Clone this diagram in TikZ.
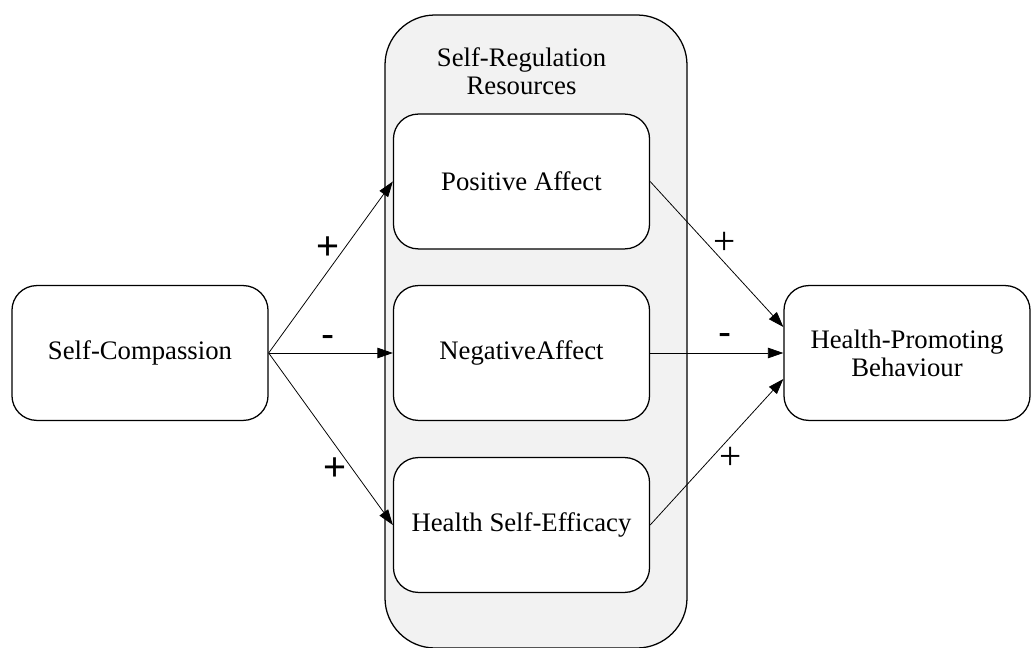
\documentclass[tikz,border=0pt]{standalone}
\usepackage{fontspec}
\setmainfont{Liberation Serif}
\newfontfamily\signfont{Liberation Sans}
\usetikzlibrary{arrows.meta}
\begin{document}
\begin{tikzpicture}[x=.025cm,y=-.025cm,
  box/.style={draw,line width=.9pt,rounded corners=.62cm,fill=white,align=center,
    minimum width=6.4cm,minimum height=3.37cm,font=\fontsize{19}{20}\selectfont},
  link/.style={line width=.55pt,-{Triangle[length=11pt,width=7.5pt]}},
  lsign/.style={font=\signfont\fontsize{28}{28}\selectfont},
  rsign/.style={font=\fontsize{28}{28}\selectfont}]
 \useasboundingbox (0,0) rectangle (1034,648);
 % resources group
 \draw[line width=.9pt,rounded corners=1.25cm,fill=black!5] (385,15) rectangle (687,648);
 \node[align=center,font=\fontsize{19}{20}\selectfont] (res) at (521.5,71) {Self-Regulation\\Resources};
 \node[box] (pos) at (521.5,181.5) {Positive Affect};
 \node[box] (neg) at (521.5,353) {NegativeAffect};
 \node[box] (eff) at (521.5,525) {Health Self-Efficacy};
 \node[box] (sc) at (140,353) {Self-Compassion};
 \node[box,minimum width=6.15cm] (hpb) at (907,353) {Health-Promoting\\Behaviour};
 % paths
 \draw[link] (sc.east) -- (pos.west);
 \draw[link] (sc.east) -- (neg.west);
 \draw[link] (sc.east) -- (eff.west);
 \draw[link] (pos.east) -- ([yshift=.65cm]hpb.west);
 \draw[link] (neg.east) -- (hpb.west);
 \draw[link] (eff.east) -- ([yshift=-.65cm]hpb.west);
 \node[lsign] (s1) at (328,248) {+};
 \node[lsign] (s2) at (328,342) {-};
 \node[lsign] (s3) at (335,469) {+};
 \node[rsign] (s4) at (725,243) {+};
 \node[lsign] (s5) at (725,340) {-};
 \node[rsign] (s6) at (731,458) {+};
\end{tikzpicture}
\end{document}
